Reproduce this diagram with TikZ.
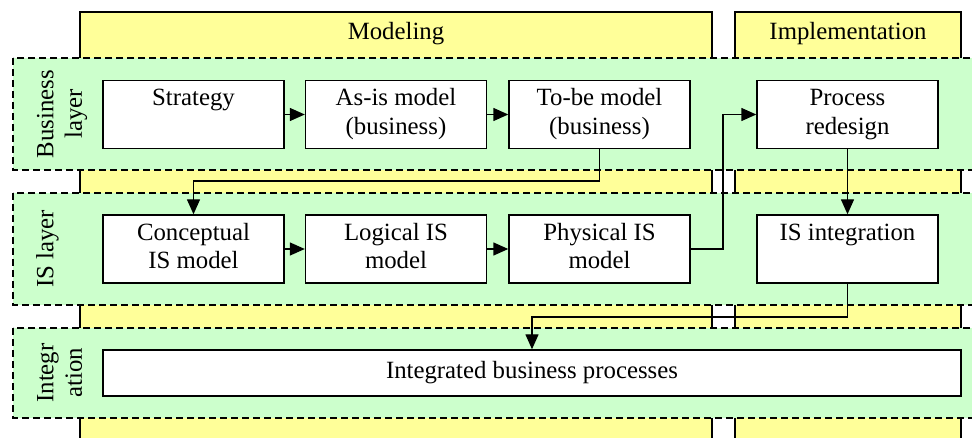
\documentclass[tikz,border=0pt]{standalone}
\usepackage{fontspec}
\setmainfont{Liberation Serif}
\usetikzlibrary{arrows.meta}
\definecolor{colyellow}{RGB}{255,255,153}
\definecolor{bandgreen}{RGB}{204,255,204}
\tikzset{
  column/.style={fill=colyellow, draw=black, line width=1.4pt},
  band/.style={fill=bandgreen, draw=black, line width=1.4pt, dash pattern=on 7pt off 4pt},
  box/.style={draw=black, fill=white, line width=1.4pt, inner sep=0pt, align=center,
    minimum height=68pt, minimum width=181pt},
  layerlabel/.style={rotate=90, align=center, inner sep=0pt},
  header/.style={anchor=base, inner sep=0pt},
  arr/.style={draw=black, line width=1.4pt, -{Triangle[length=15pt,width=13pt]}},
}
\begin{document}
\begin{tikzpicture}[x=1pt, y=-1pt, font=\fontsize{24.8}{28.5}\selectfont]
\useasboundingbox (0,0) rectangle (972,438);
\begin{scope}
\clip (0,0) rectangle (972,438);
% columns
\draw[column] (80,12) rectangle (712,460);
\draw[column] (735,12) rectangle (961,460);
% bands
\draw[band] (13,58) rectangle (990,170);
\draw[band] (13,193) rectangle (990,305);
\draw[band] (13,328) rectangle (990,418);
\end{scope}
% headers
\node[header] (hmod) at (396,39.5) {Modeling};
\node[header] (himp) at (848,39.5) {Implementation};
% layer labels
\node[layerlabel] (lbus) at (62,114) {\strut Business\\\strut layer};
\node[layerlabel] (lis) at (62,249) {\strut IS layer\\\strut};
\node[layerlabel] (lint) at (62,373) {\strut Integr\\\strut ation};
% business row
\node[box] (strat) at (193.5,114.5) {\strut Strategy\\\strut};
\node[box] (asis) at (396,114.5) {\strut As-is model\\\strut (business)};
\node[box] (tobe) at (599.5,114.5) {\strut To-be model\\\strut (business)};
\node[box] (proc) at (847.5,114.5) {\strut Process\\\strut redesign};
% IS row
\node[box] (concept) at (193.5,249) {\strut Conceptual\\\strut IS model};
\node[box] (logical) at (396,249) {\strut Logical IS\\\strut model};
\node[box] (phys) at (599.5,249) {\strut Physical IS\\\strut model};
\node[box] (isint) at (847.5,249) {\strut IS integration\\\strut};
% integration row
\node[box, minimum width=858pt, minimum height=46pt] (ibp) at (532,373) {Integrated business processes};
% helper coordinates
\coordinate (k1) at (600,181);
\coordinate (k2) at (723,249);
\coordinate (k3) at (532,317);
% connectors
\draw[arr] (strat) -- (asis);
\draw[arr] (asis) -- (tobe);
\draw[arr] (concept) -- (logical);
\draw[arr] (logical) -- (phys);
\draw[arr] (tobe.south) -- (tobe.south |- k1) -| (concept.north);
\draw[arr] (phys.east) -- (k2) |- (proc.west);
\draw[arr] (proc.south) -- (isint.north);
\draw[arr] (isint.south) |- (k3) -- (ibp.north);
\end{tikzpicture}
\end{document}
